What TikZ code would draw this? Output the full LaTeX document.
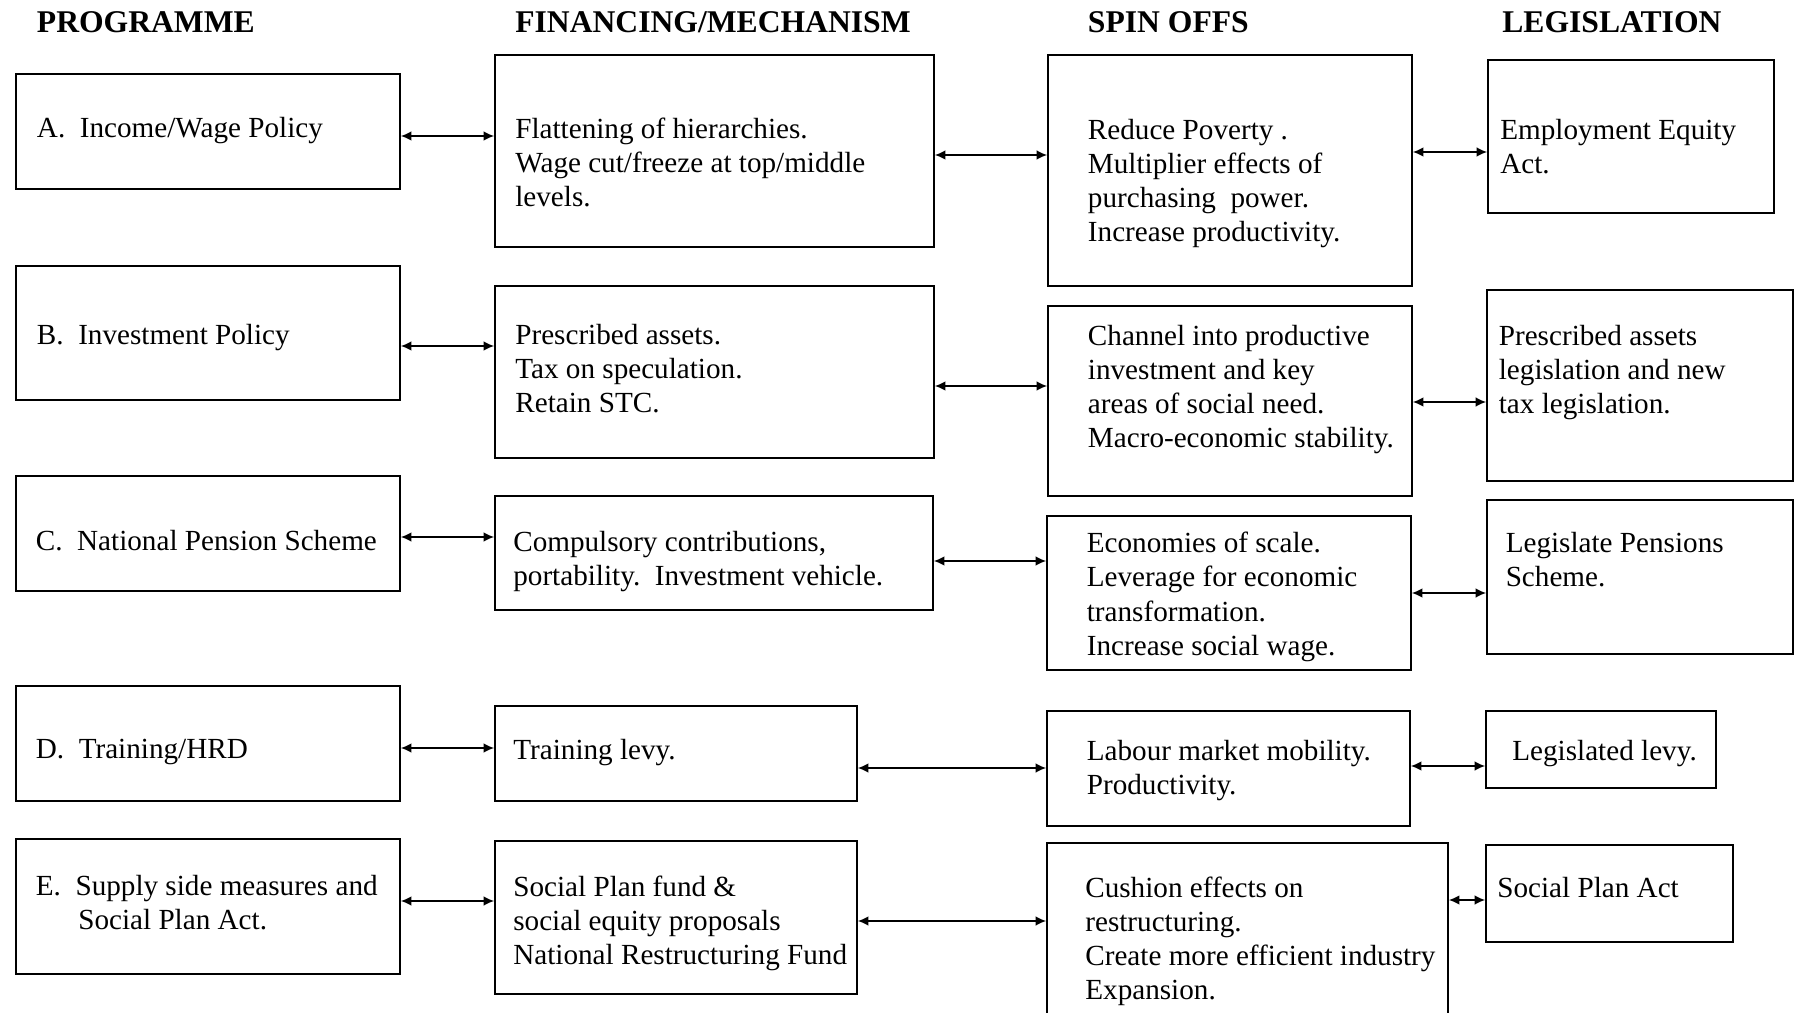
\documentclass[tikz,border=0pt]{standalone}
\usepackage{fontspec}
\setmainfont{Liberation Serif}
\usetikzlibrary{arrows.meta,fit}
\tikzset{
  box/.style={draw, line width=1pt, inner sep=0pt},
  txt/.style={anchor=north west, inner sep=0pt, align=left, font=\fontsize{16.6}{19.45}\selectfont, yshift=13.2pt},
  hdr/.style={anchor=base west, inner sep=0pt, font=\bfseries\fontsize{18}{21}\selectfont},
  arr/.style={{Latex[length=6pt,width=5.5pt]}-{Latex[length=6pt,width=5.5pt]}, line width=0.9pt}
}
\begin{document}
\begin{tikzpicture}[x=0.02cm,y=-0.02cm]
\useasboundingbox (0,0) rectangle (1795,1013);
\clip (0,0) rectangle (1795,1013);
% headers
\node[hdr] (h1) at (36.6,33) {PROGRAMME};
\node[hdr] (h2) at (515,33) {FINANCING/MECHANISM};
\node[hdr] (h3) at (1087.6,33) {SPIN OFFS};
\node[hdr] (h4) at (1502,33) {LEGISLATION};
% column 1 boxes
\node[box, fit={(16,74) (400,189)}] (a1) {};
\node[box, fit={(16,266) (400,400)}] (b1) {};
\node[box, fit={(16,476) (400,591)}] (c1) {};
\node[box, fit={(16,686) (400,801)}] (d1) {};
\node[box, fit={(16,839) (400,974)}] (e1) {};
% column 2 boxes
\node[box, fit={(495,55) (934,247)}] (a2) {};
\node[box, fit={(495,286) (934,458)}] (b2) {};
\node[box, fit={(495,496) (933,610)}] (c2) {};
\node[box, fit={(495,706) (857,801)}] (d2) {};
\node[box, fit={(495,841) (857,994)}] (e2) {};
% column 3 boxes
\node[box, fit={(1048,55) (1412,286)}] (a3) {};
\node[box, fit={(1048,306) (1412,496)}] (b3) {};
\node[box, fit={(1047,516) (1411,670)}] (c3) {};
\node[box, fit={(1047,711) (1410,826)}] (d3) {};
\node[box, fit={(1047,843) (1448,1030)}] (e3) {};
% column 4 boxes
\node[box, fit={(1488,60) (1774,213)}] (a4) {};
\node[box, fit={(1487,290) (1793,481)}] (b4) {};
\node[box, fit={(1487,500) (1793,654)}] (c4) {};
\node[box, fit={(1486,711) (1716,788)}] (d4) {};
\node[box, fit={(1486,845) (1733,942)}] (e4) {};
% texts column 1
\node[txt] (ta1) at (36.6,136) {\strut A.\ \ Income/Wage Policy};
\node[txt] (tb1) at (36.6,343) {\strut B.\ \ Investment Policy};
\node[txt] (tc1) at (35.5,549) {\strut C.\ \ National Pension Scheme};
\node[txt] (td1) at (35.5,757) {\strut D.\ \ Training/HRD};
\node[txt] (te1) at (35.5,894) {\strut E.\ \ Supply side measures and\\\hspace*{0.85cm}Social Plan Act.};
% texts column 2
\node[txt] (ta2) at (515,137) {\strut Flattening of hierarchies.\\Wage cut/freeze at top/middle\\levels.};
\node[txt] (tb2) at (515,343) {\strut Prescribed assets.\\Tax on speculation.\\Retain STC.};
\node[txt] (tc2) at (513,550.5) {\strut Compulsory contributions,\\portability.\ \ Investment vehicle.};
\node[txt] (td2) at (513,758) {\strut Training levy.};
\node[txt] (te2) at (513,895) {\strut Social Plan fund \&\\social equity proposals\\National Restructuring Fund};
% texts column 3
\node[txt] (ta3) at (1087.6,138) {\strut Reduce Poverty .\\Multiplier effects of\\purchasing\ \ power.\\Increase productivity.};
\node[txt] (tb3) at (1087.6,344) {\strut Channel into productive\\investment and key\\areas of social need.\\Macro-economic stability.};
\node[txt] (tc3) at (1086.5,551.6) {\strut Economies of scale.\\Leverage for economic\\transformation.\\Increase social wage.};
\node[txt] (td3) at (1086.5,759) {\strut Labour market mobility.\\Productivity.};
\node[txt] (te3) at (1085,896) {\strut Cushion effects on\\restructuring.\\Create more efficient industry\\Expansion.};
% texts column 4
\node[txt] (ta4) at (1500,138) {\strut Employment Equity\\Act.};
\node[txt] (tb4) at (1498.5,344) {\strut Prescribed assets\\legislation and new\\tax legislation.};
\node[txt] (tc4) at (1505.4,551.6) {\strut Legislate Pensions\\Scheme.};
\node[txt] (td4) at (1512,759) {\strut Legislated levy.};
\node[txt] (te4) at (1497,896) {\strut Social Plan Act};
% connectors column 1 - 2
\draw[arr] (a1.east |- 0,136) -- (a2.west |- 0,136);
\draw[arr] (b1.east |- 0,346) -- (b2.west |- 0,346);
\draw[arr] (c1.east |- 0,537) -- (c2.west |- 0,537);
\draw[arr] (d1.east |- 0,748) -- (d2.west |- 0,748);
\draw[arr] (e1.east |- 0,901) -- (e2.west |- 0,901);
% connectors column 2 - 3
\draw[arr] (a2.east |- 0,155) -- (a3.west |- 0,155);
\draw[arr] (b2.east |- 0,386) -- (b3.west |- 0,386);
\draw[arr] (c2.east |- 0,561) -- (c3.west |- 0,561);
\draw[arr] (d2.east |- 0,768) -- (d3.west |- 0,768);
\draw[arr] (e2.east |- 0,921) -- (e3.west |- 0,921);
% connectors column 3 - 4
\draw[arr] (a3.east |- 0,152) -- (a4.west |- 0,152);
\draw[arr] (b3.east |- 0,402) -- (b4.west |- 0,402);
\draw[arr] (c3.east |- 0,593) -- (c4.west |- 0,593);
\draw[arr] (d3.east |- 0,766) -- (d4.west |- 0,766);
\draw[arr] (e3.east |- 0,900) -- (e4.west |- 0,900);
\end{tikzpicture}
\end{document}
